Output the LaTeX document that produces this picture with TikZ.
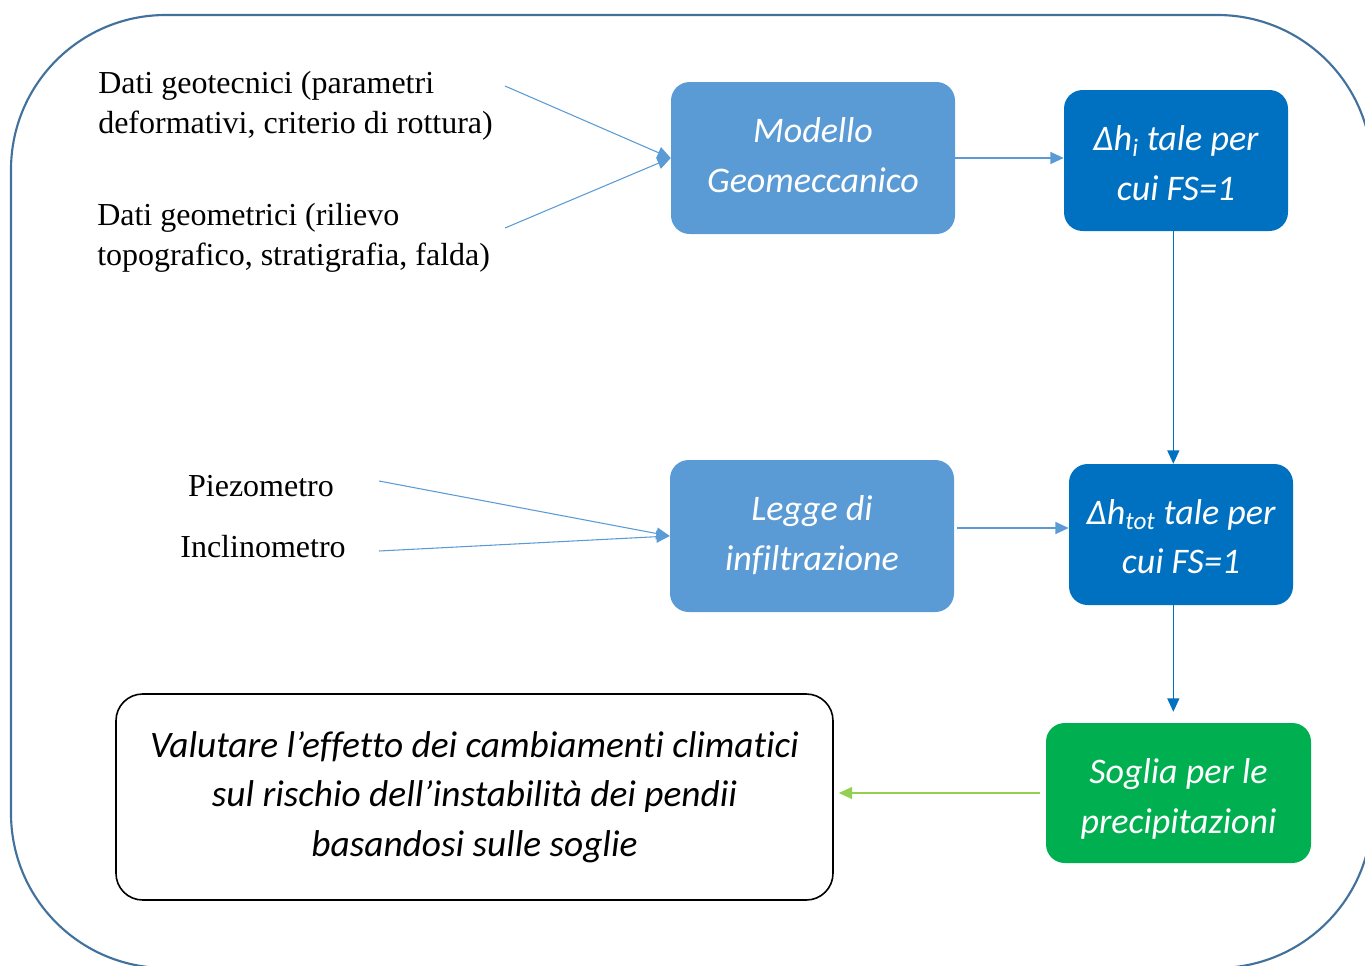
\documentclass[tikz,border=0pt]{standalone}
\usepackage{fontspec}
\setmainfont{Liberation Serif}
\newfontfamily\calfont[Ligatures=NoCommon]{Carlito}
\usetikzlibrary{arrows.meta}
\definecolor{framec}{HTML}{41719C}
\definecolor{lblue}{HTML}{5B9BD5}
\definecolor{dblue}{HTML}{0070C0}
\definecolor{gbox}{HTML}{00B050}
\definecolor{garrow}{HTML}{92D050}
\def\u{0.75pt}
\begin{document}
\begin{tikzpicture}[x=0.75pt,y=-0.75pt,
  boxtext/.style={font=\calfont\itshape\fontsize{27}{37}\selectfont, align=center, inner sep=0pt, text=white},
  lbox/.style={rounded corners=14pt, fill=lblue, inner sep=0pt},
  dbox/.style={rounded corners=14pt, fill=dblue, inner sep=0pt},
  gbx/.style={rounded corners=14pt, fill=gbox, inner sep=0pt},
  vbox/.style={font=\calfont\itshape\fontsize{28}{37}\selectfont, align=center, inner sep=0pt,
    rounded corners=20pt, draw=black, line width=1.2pt, fill=white},
  intext/.style={font=\fontsize{24}{30}\selectfont, align=left, inner sep=0pt},
  arr/.style={-{Triangle[length=10pt,width=9pt]}, line width=0.9pt},
  inarr/.style={arr, draw=lblue, line width=0.8pt}
]
\useasboundingbox (0,0) rectangle (1365,965);
\clip (0,0) rectangle (1365,965);
% outer frame
\draw[framec, line width=1.6pt, rounded corners=116pt] (11,15) rectangle (1372,968);

% boxes
\node[lbox, minimum width=284*\u, minimum height=152*\u,
  label={[boxtext, yshift=2.25pt]center:Modello\\Geomeccanico}] (mod) at (813,158) {};
\node[dbox, minimum width=224*\u, minimum height=141*\u,
  label={[boxtext, yshift=-2pt]center:Δ\textit{h}\textsubscript{i} tale per\\cui FS=1}] (dhi) at (1176,160.5) {};
\node[lbox, minimum width=284*\u, minimum height=152*\u,
  label={[boxtext, yshift=0.75pt]center:Legge di\\infiltrazione}] (leg) at (812,536) {};
\node[dbox, minimum width=224*\u, minimum height=141*\u,
  label={[boxtext, yshift=-1.5pt]center:Δ\textit{h}\textsubscript{tot} tale per\\cui FS=1}] (dht) at (1181,534.5) {};
\node[gbx, minimum width=265*\u, minimum height=140*\u,
  label={[boxtext, yshift=-4.5pt]center:Soglia per le\\precipitazioni}] (sog) at (1178.5,793) {};
\node[vbox, minimum width=717*\u, minimum height=206*\u] (val) at (474.5,797) {Valutare l’effetto dei cambiamenti climatici\\sul rischio dell’instabilità dei pendii\\basandosi sulle soglie};

% input texts
\node[intext, anchor=west] (geot) at (98,106) {Dati geotecnici (parametri\\deformativi, criterio di rottura)};
\node[intext, anchor=west] (geom) at (97,237.5) {Dati geometrici (rilievo\\topografico, stratigrafia, falda)};
\node[intext] (piez) at (261,486) {Piezometro};
\node[intext] (incl) at (263,547) {Inclinometro};

\coordinate (s1) at (505,86);
\coordinate (s2) at (505,228);
\coordinate (s3) at (379,481);
\coordinate (s4) at (379,551);

% connectors
\draw[inarr] (s1) -- (mod.west);
\draw[inarr] (s2) -- (mod.west);
\draw[inarr] (s3) -- (leg.west);
\draw[inarr] (s4) -- (leg.west);
\draw[arr, lblue] (mod.east) -- (mod.east -| dhi.west);
\draw[arr, dblue] ([xshift=-2pt]dhi.south) -- ([xshift=-2pt]dhi.south |- dht.north);
\draw[arr, lblue, shorten <=3*\u] ([yshift=6pt]leg.east) -- ([yshift=6pt]leg.east -| dht.west);
\draw[arr, dblue, shorten >=11*\u] ([xshift=-2pt]dhi.south |- dht.south) -- ([xshift=-2pt]dhi.south |- sog.north);
\draw[arr, garrow, shorten <=6*\u, shorten >=5*\u] (sog.west) -- (sog.west -| val.east);
\end{tikzpicture}
\end{document}
